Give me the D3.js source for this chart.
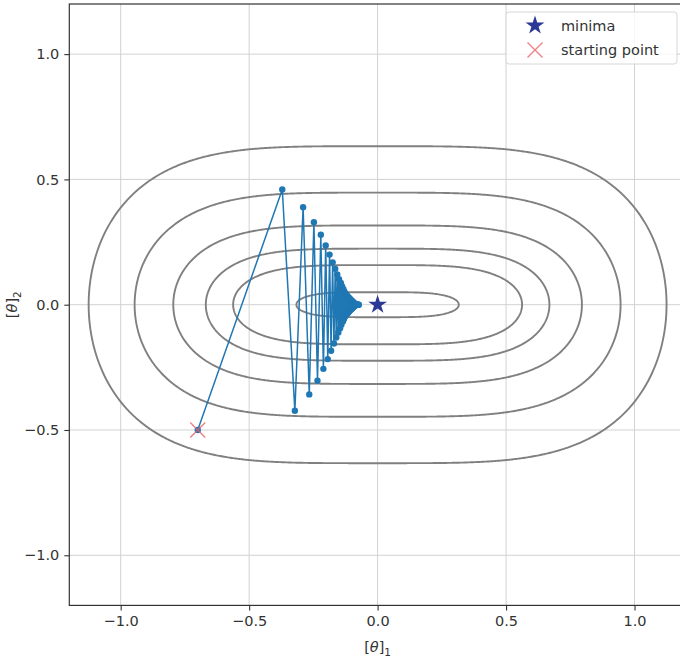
<!DOCTYPE html>
<html>
<head>
<meta charset="utf-8">
<script src="https://cdn.jsdelivr.net/npm/d3@7"></script>
<style>
  body { margin: 0; background: #fff; }
  text { font-family: "DejaVu Sans", sans-serif; }
</style>
</head>
<body>
<svg id="chart" width="680" height="660"></svg>
<script>
// ticks shared by both axes
const ticks = [-1.0, -0.5, 0.0, 0.5, 1.0];

// contour levels of f(t) = t1^4 + 4 t2^2
const levels = [0.01, 0.1, 0.2, 0.4, 0.8, 1.6];

// gradient descent iterates
const pathX = [-0.700, -0.371, -0.322, -0.290, -0.266, -0.248, -0.234, -0.221, -0.211, -0.202,
  -0.194, -0.187, -0.181, -0.175, -0.170, -0.165, -0.161, -0.157, -0.153, -0.150,
  -0.146, -0.143, -0.141, -0.138, -0.135, -0.133, -0.131, -0.129, -0.127, -0.125,
  -0.123, -0.121, -0.119, -0.118, -0.116, -0.115, -0.113, -0.112, -0.111, -0.109,
  -0.108, -0.107, -0.106, -0.105, -0.104, -0.103, -0.102, -0.101, -0.100, -0.099,
  -0.098, -0.097, -0.096, -0.095, -0.094, -0.093, -0.092, -0.091, -0.090, -0.089,
  -0.088, -0.087, -0.085, -0.083, -0.081, -0.079, -0.077, -0.075, -0.073];
const pathY = [-0.500, 0.460, -0.423, 0.389, -0.358, 0.329, -0.303, 0.279, -0.256, 0.236,
  -0.217, 0.200, -0.184, 0.169, -0.155, 0.143, -0.131, 0.121, -0.111, 0.102,
  -0.094, 0.087, -0.080, 0.073, -0.067, 0.062, -0.057, 0.052, -0.048, 0.044,
  -0.041, 0.039, -0.037, 0.035, -0.033, 0.031, -0.029, 0.028, -0.026, 0.025,
  -0.023, 0.022, -0.021, 0.020, -0.019, 0.018, -0.017, 0.016, -0.015, 0.014,
  -0.013, 0.012, -0.011, 0.010, -0.009, 0.008, -0.007, 0.006, -0.005, 0.004,
  -0.003, 0.003, -0.002, 0.002, -0.001, 0.001, 0.000, 0.000, 0.000];

const minima = [0.0, 0.0];
const start = [-0.7, -0.5];

const svg = d3.select('#chart');

const x = d3.scaleLinear().domain([-1.2, 1.2]).range([69.3, 685.9]);
const y = d3.scaleLinear().domain([-1.2, 1.2]).range([605.4, 4]);

svg.append('defs').append('clipPath').attr('id', 'clip')
  .append('rect')
  .attr('x', x(-1.2)).attr('y', y(1.2))
  .attr('width', x(1.2) - x(-1.2)).attr('height', y(-1.2) - y(1.2));

// grid
const grid = svg.append('g');
grid.selectAll('.gx').data(ticks).join('line')
  .attr('x1', d => x(d)).attr('x2', d => x(d))
  .attr('y1', y(1.2)).attr('y2', y(-1.2))
  .attr('stroke', '#d2d2d2').attr('stroke-width', 1);
grid.selectAll('.gy').data(ticks).join('line')
  .attr('x1', x(-1.2)).attr('x2', x(1.2))
  .attr('y1', d => y(d)).attr('y2', d => y(d))
  .attr('stroke', '#d2d2d2').attr('stroke-width', 1);

const plot = svg.append('g').attr('clip-path', 'url(#clip)');

// contours
const n = 480, step = 2.4 / n;
const values = new Array(n * n);
for (let j = 0; j < n; j++) {
  const ty = 1.2 - (j + 0.5) * step;
  for (let i = 0; i < n; i++) {
    const tx = -1.2 + (i + 0.5) * step;
    values[j * n + i] = -(Math.pow(tx, 4) + 4 * ty * ty);
  }
}
const contours = d3.contours().size([n, n]).thresholds(levels.map(l => -l))(values);
const proj = d3.geoTransform({
  point: function(u, v) {
    this.stream.point(x(-1.2 + u * step), y(1.2 - v * step));
  }
});
plot.selectAll('.contour').data(contours).join('path')
  .attr('d', d3.geoPath(proj))
  .attr('fill', 'none')
  .attr('stroke', '#808080')
  .attr('stroke-width', 1.9);

// descent path
const pts = pathX.map((d, i) => [d, pathY[i]]);
plot.append('path')
  .datum(pts)
  .attr('d', d3.line().x(d => x(d[0])).y(d => y(d[1])))
  .attr('fill', 'none')
  .attr('stroke', '#1f77b4')
  .attr('stroke-width', 1.5);
plot.selectAll('.pt').data(pts).join('circle')
  .attr('cx', d => x(d[0])).attr('cy', d => y(d[1]))
  .attr('r', 3.2)
  .attr('fill', '#1f77b4');

// markers
const star = d3.symbol().type(d3.symbolStar).size(110);

plot.append('path')
  .attr('d', star())
  .attr('transform', `translate(${x(minima[0])},${y(minima[1])})`)
  .attr('fill', '#2b3896');

function drawX(g, cx, cy) {
  const s = 7.5;
  g.append('path')
    .attr('d', `M${cx - s},${cy - s}L${cx + s},${cy + s}M${cx - s},${cy + s}L${cx + s},${cy - s}`)
    .attr('stroke', '#e8606a')
    .attr('stroke-opacity', 0.8)
    .attr('stroke-width', 1.4)
    .attr('fill', 'none');
}
drawX(plot, x(start[0]), y(start[1]));

// spines
svg.append('rect')
  .attr('x', x(-1.2)).attr('y', y(1.2))
  .attr('width', x(1.2) - x(-1.2)).attr('height', y(-1.2) - y(1.2))
  .attr('fill', 'none').attr('stroke', '#333').attr('stroke-width', 1.2);

// axes
const fmt = d => d3.format('.1f')(d).replace('-', '\u2212');
const xAxis = d3.axisBottom(x).tickValues(ticks).tickSize(5).tickPadding(5).tickFormat(fmt);
const yAxis = d3.axisLeft(y).tickValues(ticks).tickSize(5).tickPadding(5).tickFormat(fmt);

const gx = svg.append('g').attr('transform', `translate(0,${y(-1.2)})`).call(xAxis);
const gy = svg.append('g').attr('transform', `translate(${x(-1.2)},0)`).call(yAxis);
[gx, gy].forEach(g => {
  g.select('.domain').remove();
  g.selectAll('line').attr('stroke', '#333').attr('stroke-width', 1.1);
  g.selectAll('text').attr('font-size', 14.5).attr('fill', '#333')
    .attr('font-family', '"DejaVu Sans", sans-serif');
});

// axis labels
function thetaLabel(t, sub) {
  t.append('tspan').text('[');
  t.append('tspan').attr('font-style', 'italic').text('\u03b8');
  t.append('tspan').text(']');
  t.append('tspan').attr('font-size', 10.5).attr('dy', 4).text(sub);
}
const xl = svg.append('text')
  .attr('x', x(0)).attr('y', 652)
  .attr('text-anchor', 'middle')
  .attr('font-size', 14.5).attr('fill', '#333');
thetaLabel(xl, '1');

const yl = svg.append('text')
  .attr('transform', `translate(17,${y(0)}) rotate(-90)`)
  .attr('text-anchor', 'middle')
  .attr('font-size', 14.5).attr('fill', '#333');
thetaLabel(yl, '2');

// legend
const lg = svg.append('g');
lg.append('rect')
  .attr('x', 506).attr('y', 12).attr('width', 171).attr('height', 52)
  .attr('rx', 3)
  .attr('fill', '#fff').attr('fill-opacity', 0.8)
  .attr('stroke', '#d6d6d6').attr('stroke-width', 1);
const legendItems = ['minima', 'starting point'];
lg.append('path')
  .attr('d', star())
  .attr('transform', 'translate(535,25.5)')
  .attr('fill', '#2b3896');
drawX(lg, 535, 50);
lg.selectAll('.lt').data(legendItems).join('text')
  .attr('x', 561).attr('y', (d, i) => 25.5 + i * 24.5)
  .attr('dy', '0.35em')
  .attr('font-size', 14.5).attr('fill', '#333')
  .text(d => d);
</script>
</body>
</html>
